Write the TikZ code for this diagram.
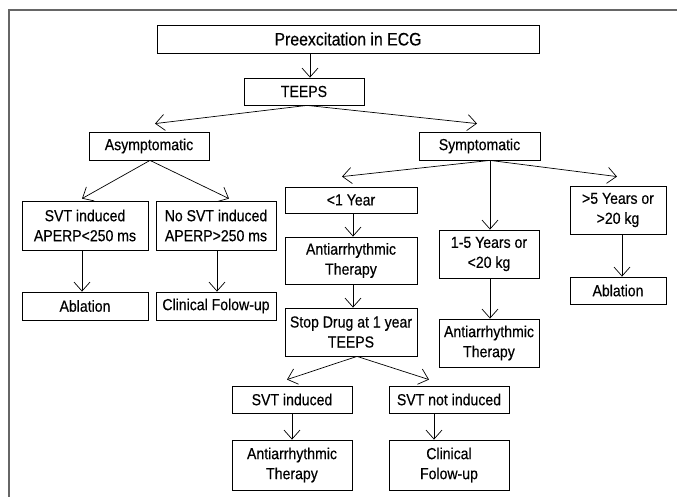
\documentclass[tikz,border=0pt]{standalone}
\usepackage{fontspec}
\setmainfont{Liberation Sans}[FakeStretch=0.88,FakeBold=0.4]
\usetikzlibrary{positioning,arrows.meta}
\tikzset{
  fig/.style={font=\fontsize{16}{20}\selectfont},
  box/.style={draw,line width=0.8pt,align=center,inner sep=1pt,
              minimum height=27pt},
  tallbox/.style={box,minimum height=48pt},
  ln/.style={-{Straight Barb[length=9pt,width=16pt]},line width=0.7pt},
  framel/.style={draw=black!60,line width=1.6pt},
}

\begin{document}
\begin{tikzpicture}[fig,x=1pt,y=-1pt]
\useasboundingbox (0,0) rectangle (677,497);

% --- frame of the figure
\draw[framel] (8,10) -- (677,10);
\draw[framel] (9,10) -- (9,497);

% --- top of the tree
\node[box,minimum width=382pt,minimum height=28pt,
      font=\fontsize{18}{20}\selectfont] (pre) at (348,39) {Preexcitation in ECG};
\node[box,minimum width=120pt] (teeps) at (304,91.5) {TEEPS};
\node[box,minimum width=120pt,minimum height=28pt] (asym) at (149,146) {Asymptomatic};
\node[box,minimum width=121pt,minimum height=28pt] (sym) at (479.5,146) {Symptomatic};

\draw[ln] ([xshift=-38pt]pre.south) -- ([xshift=6pt]teeps.north);
\draw[ln] ([xshift=3pt]teeps.south) -- ([xshift=6pt,yshift=8pt]asym.north);
\draw[ln] ([xshift=3pt]teeps.south) -- ([xshift=-2.5pt,yshift=8pt]sym.north);

% --- asymptomatic branch
\node[box,minimum width=126pt,minimum height=49pt] (svta) at (85,225.5)
      {SVT induced\\APERP<250 ms};
\node[box,minimum width=120pt,minimum height=49pt] (nosvt) at (216,225.5)
      {No SVT induced\\APERP>250 ms};
\node[box,minimum width=126pt,minimum height=28pt] (abll) at (85,306) {Ablation};
\node[box,minimum width=120pt,minimum height=28pt] (cful) at (216,306) {Clinical Folow-up};

\draw[ln] ([xshift=1pt]asym.south) -- ([xshift=-3pt,yshift=2pt]svta.north);
\draw[ln] ([xshift=1pt]asym.south) -- ([xshift=13pt,yshift=2pt]nosvt.north);
\draw[ln] ([xshift=-3pt]svta.south) -- ([xshift=-3pt]abll.north);
\draw[ln] ([xshift=1pt]nosvt.south) -- ([xshift=1pt]cful.north);

% --- symptomatic branch
\node[box,minimum width=132pt,minimum height=26pt] (lt1) at (351,200) {<1 Year};
\node[tallbox,minimum width=132pt,minimum height=47pt] (antim) at (351,260.5)
      {Antiarrhythmic\\Therapy};
\node[tallbox,minimum width=132pt] (stop) at (351,332)
      {Stop Drug at 1 year\\TEEPS};
\node[tallbox,minimum width=100pt] (mid15) at (489,254) {1-5 Years or\\<20 kg};
\node[tallbox,minimum width=100pt] (antir) at (489,343) {Antiarrhythmic\\Therapy};
\node[tallbox,minimum width=96pt] (gt5) at (618,210) {>5 Years or\\>20 kg};
\node[box,minimum width=96pt] (ablr) at (618,290.5) {Ablation};

\draw[ln] ([xshift=10.5pt]sym.south) -- ([xshift=-9pt,yshift=10pt]lt1.north);
\draw[ln] ([xshift=10.5pt]sym.south) -- ([xshift=1pt]mid15.north);
\draw[ln] ([xshift=10.5pt]sym.south) -- ([xshift=-1pt,yshift=9pt]gt5.north);
\draw[ln] ([xshift=2pt]lt1.south) -- ([xshift=2pt]antim.north);
\draw[ln] ([xshift=2pt]antim.south) -- ([xshift=2pt]stop.north);
\draw[ln] ([xshift=1pt]mid15.south) -- ([xshift=1pt]antir.north);
\draw[ln] ([xshift=4pt]gt5.south) -- ([xshift=4pt]ablr.north);

% --- after the drug is stopped
\node[box,minimum width=120pt] (svti) at (292,399.5) {SVT induced};
\node[box,minimum width=120pt] (svtn) at (449,399.5) {SVT not induced};
\node[tallbox,minimum width=120pt,minimum height=50pt] (antib) at (292,465)
      {Antiarrhythmic\\Therapy};
\node[tallbox,minimum width=120pt,minimum height=50pt] (cfub) at (449,465)
      {Clinical\\Folow-up};

\draw[ln] ([xshift=6pt]stop.south) -- ([xshift=-5pt,yshift=6pt]svti.north);
\draw[ln] ([xshift=6pt]stop.south) -- ([xshift=-20pt,yshift=6pt]svtn.north);
\draw[ln] (svti) -- (antib);
\draw[ln] ([xshift=-15pt]svtn.south) -- ([xshift=-15pt]cfub.north);

\end{tikzpicture}
\end{document}
